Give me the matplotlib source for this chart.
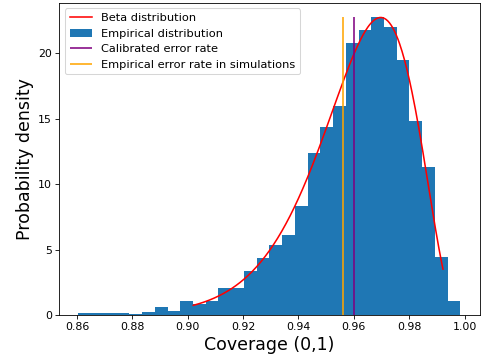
import math
import numpy as np
import matplotlib
matplotlib.use("Agg")
import matplotlib.pyplot as plt

# Histogram (density): 30 equal bins
bin_start, bin_end, n_bins = 0.8605, 0.9985, 30
heights = [0.15, 0.15, 0.15, 0.15, 0.08, 0.25, 0.59, 0.33, 1.05, 0.87,
           1.09, 2.06, 2.06, 3.4, 4.33, 5.34, 6.1, 8.3, 12.4, 14.4,
           16.0, 20.8, 21.8, 22.8, 22.0, 19.5, 14.8, 11.3, 4.45, 1.09]

# Fitted beta distribution parameters and drawn range
beta_a, beta_b = 97.0, 4.0
beta_x_min, beta_x_max = 0.902, 0.9922

calibrated_rate = 0.960
empirical_rate = 0.9561

edges = np.linspace(bin_start, bin_end, n_bins + 1)
widths = np.diff(edges)

xs = np.linspace(beta_x_min, beta_x_max, 300)
lnB = math.lgamma(beta_a) + math.lgamma(beta_b) - math.lgamma(beta_a + beta_b)
pdf = np.exp((beta_a - 1) * np.log(xs) + (beta_b - 1) * np.log(1 - xs) - lnB)

dpi = 75
fig = plt.figure(figsize=(482 / dpi, 360 / dpi), dpi=dpi)
ax = fig.add_axes([59.3 / 482, 1 - 315 / 360, (479.5 - 59.3) / 482, (315 - 2.7) / 360])

h1, = ax.plot(xs, pdf, color="red", lw=1.5, label="Beta distribution")
h2 = ax.bar(edges[:-1], heights, width=widths, align="edge", color="#1f77b4",
            label="Empirical distribution")
h3 = ax.vlines([calibrated_rate], 0, pdf.max(), color="purple", lw=1.5,
               label="Calibrated error rate")
h4 = ax.vlines([empirical_rate], 0, pdf.max(), color="orange", lw=1.5,
               label="Empirical error rate in simulations")

ax.set_xlim(bin_start - 0.05 * (bin_end - bin_start), bin_end + 0.05 * (bin_end - bin_start))
ax.set_ylim(0, 23.88)
ax.set_xticks([0.86, 0.88, 0.90, 0.92, 0.94, 0.96, 0.98, 1.00])
ax.set_yticks([0, 5, 10, 15, 20])
ax.tick_params(labelsize=10.5)
ax.set_xlabel("Coverage (0,1)", fontsize=16.7)
ax.set_ylabel("Probability density", fontsize=16.7)
ax.legend(handles=[h1, h2, h3, h4], loc="upper left", fontsize=10.9)

fig.savefig("out.png", dpi=dpi)
